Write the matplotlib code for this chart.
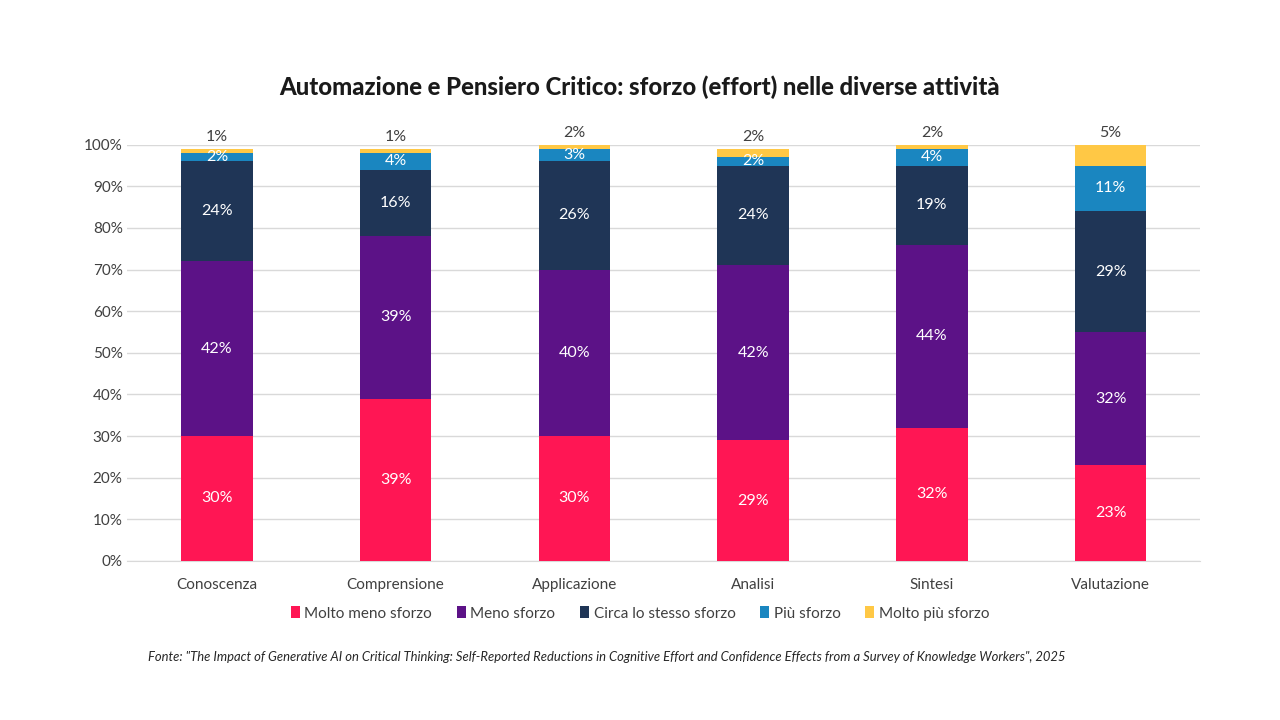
import matplotlib.pyplot as plt
import numpy as np

plt.rcParams['font.family'] = ['Lato', 'DejaVu Sans']

categorie = ['Conoscenza', 'Comprensione', 'Applicazione', 'Analisi', 'Sintesi', 'Valutazione']
serie = ['Molto meno sforzo', 'Meno sforzo', 'Circa lo stesso sforzo', 'Più sforzo', 'Molto più sforzo']
molto_meno = [30, 39, 30, 29, 32, 23]
meno = [42, 39, 40, 42, 44, 32]
stesso = [24, 16, 26, 24, 19, 29]
piu = [2, 4, 3, 2, 4, 11]
molto_piu = [1, 1, 2, 2, 2, 5]
colori = ['#FF1654', '#5C1287', '#1F3556', '#1A86C0', '#FFC845']

valori = [molto_meno, meno, stesso, piu, molto_piu]

fig = plt.figure(figsize=(12.8, 7.2), dpi=100)
ax = fig.add_axes([0.0996, 0.221, 0.8379, 0.578])

x = np.arange(len(categorie))
base = np.zeros(len(categorie))
for k, (nome, v, c) in enumerate(zip(serie, valori, colori)):
    v = np.array(v) / 100
    ax.bar(x, v, 0.4, bottom=base, color=c, label=nome, zorder=3)
    for i in range(len(x)):
        if k == 4:
            # etichetta sopra la barra (le barre oltre il 100% vengono tagliate)
            top = min(base[i] + v[i], 1.0)
            ax.text(x[i], top + 0.012, f'{int(round(v[i]*100))}%',
                    ha='center', va='bottom', fontsize=11.5, color='#404040')
        else:
            ax.text(x[i], base[i] + v[i] / 2, f'{int(round(v[i]*100))}%',
                    ha='center', va='center', fontsize=11.5, color='white', zorder=4)
    base = base + v

ax.set_xlim(-0.5, 5.5)
ax.set_ylim(0, 1.0)
ax.set_yticks(np.arange(0, 1.01, 0.1))
ax.set_yticklabels([f'{int(round(t*100))}%' for t in np.arange(0, 1.01, 0.1)])
ax.set_xticks(x)
ax.set_xticklabels(categorie)
ax.tick_params(axis='both', length=0, labelsize=11, colors='#404040')
ax.tick_params(axis='x', pad=12)
ax.grid(axis='y', color='#D9D9D9', linewidth=1, zorder=0)
for s in ['top', 'right', 'left']:
    ax.spines[s].set_visible(False)
ax.spines['bottom'].set_color('#D9D9D9')

fig.text(0.5, 0.879, 'Automazione e Pensiero Critico: sforzo (effort) nelle diverse attività',
         ha='center', va='center', fontsize=17.2, fontweight='black', color='#1a1a1a')

fig.legend(loc='center', bbox_to_anchor=(0.5, 0.148), ncol=5, frameon=False,
           fontsize=11, handlelength=0.6, handleheight=0.8, handletextpad=0.3,
           columnspacing=1.6, labelcolor='#404040')

fig.text(0.116, 0.087,
         'Fonte: "The Impact of Generative AI on Critical Thinking: Self-Reported Reductions in Cognitive Effort and Confidence Effects from a Survey of Knowledge Workers", 2025',
         ha='left', va='center', fontsize=9.4, style='italic', color='#262626')

fig.savefig('out.png', dpi=100)
